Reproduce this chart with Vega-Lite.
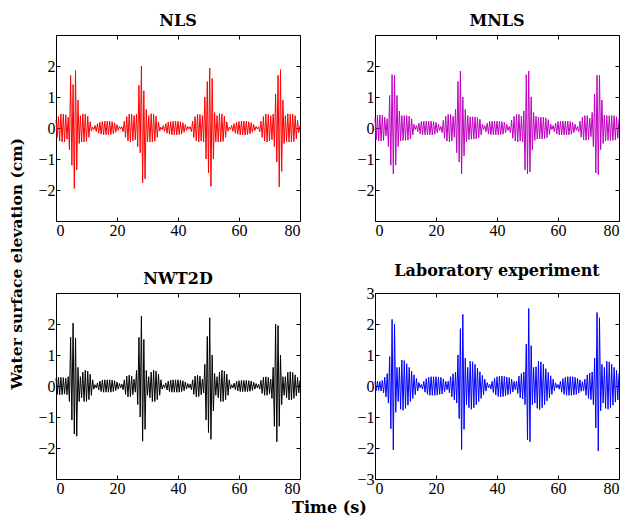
{
"$schema":"https://vega.github.io/schema/vega-lite/v6.json",
"padding":{"left":9,"top":12,"right":2,"bottom":2},
"background":"white",
"config":{"view":{"stroke":"black","strokeWidth":1},
"style":{"guide-label":{"font":"Liberation Serif","fontSize":16,"fill":"black"}},
"axis":{"grid":false,"domain":false,"labelFont":"Liberation Serif","labelFontSize":16,"labelColor":"black","tickColor":"black","tickSize":-4,"labelPadding":5,"title":null},
"title":{"font":"DejaVu Serif","fontWeight":"bold","fontSize":16,"color":"black","offset":6},
"concat":{"spacing":53}},
"data":{"values":[
{"t":0,"a":0.25,"b":0.32,"c":0.25,"d":0.15},
{"t":0.4,"a":-0.3,"b":-0.38,"c":-0.27,"d":-0.15},
{"t":0.8,"a":0.37,"b":0.41,"c":0.28,"d":0.15},
{"t":1.2,"a":-0.42,"b":-0.42,"c":-0.28,"d":-0.14},
{"t":1.6,"a":0.45,"b":0.42,"c":0.28,"d":0.15},
{"t":2.0,"a":-0.45,"b":-0.42,"c":-0.28,"d":-0.16},
{"t":2.4,"a":0.45,"b":0.41,"c":0.27,"d":0.18},
{"t":2.8,"a":-0.45,"b":-0.4,"c":-0.26,"d":-0.22},
{"t":3.2,"a":0.43,"b":0.35,"c":0.25,"d":0.28},
{"t":3.6,"a":-0.36,"b":-0.25,"c":-0.28,"d":-0.35},
{"t":4.0,"a":0.35,"b":0.3,"c":0.3,"d":0.4},
{"t":4.4,"a":-0.7,"b":-0.6,"c":-0.5,"d":-0.55},
{"t":4.8,"a":1.7,"b":1.05,"c":1.57,"d":0.95},
{"t":5.2,"a":-1.2,"b":-1.2,"c":-1.1,"d":-1.38},
{"t":5.6,"a":1.4,"b":1.72,"c":2.03,"d":2.15},
{"t":6.0,"a":-1.95,"b":-1.48,"c":-1.55,"d":-2.06},
{"t":6.4,"a":1.85,"b":1.7,"c":1.55,"d":2.0},
{"t":6.8,"a":-1.35,"b":-1.2,"c":-1.62,"d":-0.85},
{"t":7.2,"a":0.9,"b":1.05,"c":0.6,"d":0.6},
{"t":7.6,"a":-0.5,"b":-0.6,"c":-0.5,"d":-0.5},
{"t":8.0,"a":0.4,"b":0.55,"c":0.3,"d":0.6},
{"t":8.4,"a":-0.45,"b":-0.42,"c":-0.38,"d":-0.75},
{"t":8.8,"a":0.46,"b":0.4,"c":0.45,"d":0.84},
{"t":9.2,"a":-0.45,"b":-0.4,"c":-0.5,"d":-0.78},
{"t":9.6,"a":0.45,"b":0.4,"c":0.51,"d":0.82},
{"t":10.0,"a":-0.43,"b":-0.4,"c":-0.5,"d":-0.72},
{"t":10.4,"a":0.38,"b":0.4,"c":0.48,"d":0.72},
{"t":10.8,"a":-0.3,"b":-0.39,"c":-0.44,"d":-0.62},
{"t":11.2,"a":0.2,"b":0.38,"c":0.38,"d":0.6},
{"t":11.6,"a":-0.1,"b":-0.35,"c":-0.3,"d":-0.5},
{"t":12.0,"a":0.03,"b":0.3,"c":0.2,"d":0.48},
{"t":12.4,"a":-0.05,"b":-0.22,"c":-0.1,"d":-0.4},
{"t":12.8,"a":0.08,"b":0.12,"c":0.04,"d":0.36},
{"t":13.2,"a":-0.11,"b":-0.05,"c":-0.06,"d":-0.28},
{"t":13.6,"a":0.14,"b":0.08,"c":0.1,"d":0.24},
{"t":14.0,"a":-0.17,"b":-0.12,"c":-0.13,"d":-0.16},
{"t":14.4,"a":0.19,"b":0.16,"c":0.16,"d":0.11},
{"t":14.8,"a":-0.2,"b":-0.19,"c":-0.18,"d":-0.06},
{"t":15.2,"a":0.21,"b":0.21,"c":0.19,"d":0.05},
{"t":15.6,"a":-0.22,"b":-0.22,"c":-0.2,"d":-0.1},
{"t":16.0,"a":0.22,"b":0.22,"c":0.2,"d":0.15},
{"t":16.4,"a":-0.22,"b":-0.22,"c":-0.2,"d":-0.2},
{"t":16.8,"a":0.22,"b":0.22,"c":0.2,"d":0.24},
{"t":17.2,"a":-0.22,"b":-0.22,"c":-0.2,"d":-0.27},
{"t":17.6,"a":0.22,"b":0.22,"c":0.2,"d":0.28},
{"t":18.0,"a":-0.21,"b":-0.22,"c":-0.2,"d":-0.3},
{"t":18.4,"a":0.2,"b":0.22,"c":0.19,"d":0.3},
{"t":18.8,"a":-0.19,"b":-0.22,"c":-0.18,"d":-0.3},
{"t":19.2,"a":0.17,"b":0.21,"c":0.17,"d":0.3},
{"t":19.6,"a":-0.14,"b":-0.2,"c":-0.15,"d":-0.3},
{"t":20.0,"a":0.11,"b":0.18,"c":0.13,"d":0.3},
{"t":20.4,"a":-0.08,"b":-0.15,"c":-0.1,"d":-0.29},
{"t":20.8,"a":0.05,"b":0.12,"c":0.08,"d":0.28},
{"t":21.2,"a":-0.03,"b":-0.08,"c":-0.06,"d":-0.27},
{"t":21.6,"a":0.04,"b":0.05,"c":0.06,"d":0.28},
{"t":22.0,"a":-0.12,"b":-0.15,"c":-0.12,"d":-0.26},
{"t":22.4,"a":0.22,"b":0.25,"c":0.2,"d":0.23},
{"t":22.8,"a":-0.3,"b":-0.33,"c":-0.27,"d":-0.19},
{"t":23.2,"a":0.37,"b":0.38,"c":0.32,"d":0.15},
{"t":23.6,"a":-0.42,"b":-0.42,"c":-0.35,"d":-0.12},
{"t":24.0,"a":0.45,"b":0.44,"c":0.35,"d":0.15},
{"t":24.4,"a":-0.45,"b":-0.45,"c":-0.34,"d":-0.22},
{"t":24.8,"a":0.44,"b":0.44,"c":0.32,"d":0.3},
{"t":25.2,"a":-0.42,"b":-0.42,"c":-0.28,"d":-0.35},
{"t":25.6,"a":0.4,"b":0.38,"c":0.22,"d":0.4},
{"t":26.0,"a":-0.38,"b":-0.3,"c":-0.2,"d":-0.45},
{"t":26.4,"a":0.45,"b":0.6,"c":0.5,"d":0.45},
{"t":26.8,"a":-0.6,"b":-0.8,"c":-0.6,"d":-0.55},
{"t":27.2,"a":1.38,"b":1.5,"c":1.57,"d":1.0},
{"t":27.6,"a":-0.8,"b":-1.1,"c":-1.0,"d":-1.05},
{"t":28.0,"a":2.0,"b":1.84,"c":2.25,"d":1.85},
{"t":28.4,"a":-1.77,"b":-1.48,"c":-1.78,"d":-2.05},
{"t":28.8,"a":1.2,"b":1.0,"c":1.5,"d":2.31},
{"t":29.2,"a":-1.64,"b":-0.9,"c":-1.4,"d":-1.4},
{"t":29.6,"a":0.6,"b":0.6,"c":0.5,"d":0.9},
{"t":30.0,"a":-0.45,"b":-0.45,"c":-0.3,"d":-0.6},
{"t":30.4,"a":0.4,"b":0.4,"c":0.3,"d":0.6},
{"t":30.8,"a":-0.45,"b":-0.38,"c":-0.38,"d":-0.7},
{"t":31.2,"a":0.46,"b":0.36,"c":0.45,"d":0.8},
{"t":31.6,"a":-0.45,"b":-0.36,"c":-0.5,"d":-0.75},
{"t":32.0,"a":0.45,"b":0.36,"c":0.51,"d":0.78},
{"t":32.4,"a":-0.43,"b":-0.36,"c":-0.5,"d":-0.7},
{"t":32.8,"a":0.38,"b":0.36,"c":0.48,"d":0.7},
{"t":33.2,"a":-0.3,"b":-0.35,"c":-0.44,"d":-0.6},
{"t":33.6,"a":0.2,"b":0.34,"c":0.38,"d":0.58},
{"t":34.0,"a":-0.1,"b":-0.32,"c":-0.3,"d":-0.5},
{"t":34.4,"a":0.03,"b":0.28,"c":0.2,"d":0.46},
{"t":34.8,"a":-0.05,"b":-0.22,"c":-0.1,"d":-0.4},
{"t":35.2,"a":0.08,"b":0.12,"c":0.04,"d":0.34},
{"t":35.6,"a":-0.11,"b":-0.05,"c":-0.06,"d":-0.28},
{"t":36.0,"a":0.14,"b":0.08,"c":0.1,"d":0.22},
{"t":36.4,"a":-0.17,"b":-0.12,"c":-0.13,"d":-0.16},
{"t":36.8,"a":0.19,"b":0.16,"c":0.16,"d":0.11},
{"t":37.2,"a":-0.2,"b":-0.19,"c":-0.18,"d":-0.06},
{"t":37.6,"a":0.21,"b":0.21,"c":0.19,"d":0.05},
{"t":38.0,"a":-0.22,"b":-0.22,"c":-0.2,"d":-0.1},
{"t":38.4,"a":0.22,"b":0.22,"c":0.2,"d":0.15},
{"t":38.8,"a":-0.22,"b":-0.22,"c":-0.2,"d":-0.21},
{"t":39.2,"a":0.22,"b":0.22,"c":0.2,"d":0.25},
{"t":39.6,"a":-0.22,"b":-0.22,"c":-0.2,"d":-0.29},
{"t":40.0,"a":0.22,"b":0.22,"c":0.2,"d":0.3},
{"t":40.4,"a":-0.21,"b":-0.22,"c":-0.2,"d":-0.34},
{"t":40.8,"a":0.2,"b":0.22,"c":0.19,"d":0.32},
{"t":41.2,"a":-0.19,"b":-0.22,"c":-0.18,"d":-0.35},
{"t":41.6,"a":0.17,"b":0.21,"c":0.17,"d":0.32},
{"t":42.0,"a":-0.14,"b":-0.2,"c":-0.15,"d":-0.34},
{"t":42.4,"a":0.11,"b":0.18,"c":0.13,"d":0.31},
{"t":42.8,"a":-0.08,"b":-0.15,"c":-0.1,"d":-0.31},
{"t":43.2,"a":0.05,"b":0.12,"c":0.08,"d":0.29},
{"t":43.6,"a":-0.03,"b":-0.08,"c":-0.06,"d":-0.28},
{"t":44.0,"a":0.04,"b":0.05,"c":0.06,"d":0.27},
{"t":44.4,"a":-0.12,"b":-0.15,"c":-0.12,"d":-0.25},
{"t":44.8,"a":0.22,"b":0.25,"c":0.2,"d":0.22},
{"t":45.2,"a":-0.3,"b":-0.33,"c":-0.27,"d":-0.19},
{"t":45.6,"a":0.37,"b":0.38,"c":0.32,"d":0.15},
{"t":46.0,"a":-0.42,"b":-0.42,"c":-0.35,"d":-0.12},
{"t":46.4,"a":0.45,"b":0.44,"c":0.35,"d":0.16},
{"t":46.8,"a":-0.45,"b":-0.45,"c":-0.34,"d":-0.24},
{"t":47.2,"a":0.44,"b":0.44,"c":0.32,"d":0.32},
{"t":47.6,"a":-0.42,"b":-0.42,"c":-0.28,"d":-0.38},
{"t":48.0,"a":0.4,"b":0.38,"c":0.22,"d":0.4},
{"t":48.4,"a":-0.45,"b":-0.45,"c":-0.22,"d":-0.42},
{"t":48.8,"a":1.0,"b":0.55,"c":0.7,"d":0.45},
{"t":49.2,"a":-1.0,"b":-1.35,"c":-1.1,"d":-0.6},
{"t":49.6,"a":1.5,"b":1.72,"c":1.6,"d":1.35},
{"t":50.0,"a":-1.45,"b":-1.48,"c":-1.5,"d":-1.74},
{"t":50.4,"a":1.93,"b":1.84,"c":2.2,"d":2.5},
{"t":50.8,"a":-1.88,"b":-1.42,"c":-1.72,"d":-1.8},
{"t":51.2,"a":1.6,"b":1.0,"c":1.0,"d":1.3},
{"t":51.6,"a":-1.0,"b":-0.7,"c":-0.8,"d":-0.6},
{"t":52.0,"a":0.5,"b":0.5,"c":0.4,"d":0.6},
{"t":52.4,"a":-0.45,"b":-0.4,"c":-0.3,"d":-0.55},
{"t":52.8,"a":0.4,"b":0.38,"c":0.3,"d":0.62},
{"t":53.2,"a":-0.45,"b":-0.36,"c":-0.38,"d":-0.72},
{"t":53.6,"a":0.46,"b":0.35,"c":0.45,"d":0.8},
{"t":54.0,"a":-0.45,"b":-0.35,"c":-0.5,"d":-0.76},
{"t":54.4,"a":0.45,"b":0.35,"c":0.51,"d":0.78},
{"t":54.8,"a":-0.43,"b":-0.35,"c":-0.5,"d":-0.7},
{"t":55.2,"a":0.38,"b":0.35,"c":0.48,"d":0.7},
{"t":55.6,"a":-0.3,"b":-0.34,"c":-0.44,"d":-0.6},
{"t":56.0,"a":0.2,"b":0.33,"c":0.38,"d":0.56},
{"t":56.4,"a":-0.1,"b":-0.31,"c":-0.3,"d":-0.48},
{"t":56.8,"a":0.03,"b":0.27,"c":0.2,"d":0.44},
{"t":57.2,"a":-0.05,"b":-0.21,"c":-0.1,"d":-0.38},
{"t":57.6,"a":0.08,"b":0.12,"c":0.04,"d":0.33},
{"t":58.0,"a":-0.11,"b":-0.05,"c":-0.06,"d":-0.27},
{"t":58.4,"a":0.14,"b":0.08,"c":0.09,"d":0.22},
{"t":58.8,"a":-0.17,"b":-0.12,"c":-0.12,"d":-0.15},
{"t":59.2,"a":0.19,"b":0.16,"c":0.15,"d":0.1},
{"t":59.6,"a":-0.2,"b":-0.19,"c":-0.16,"d":-0.06},
{"t":60.0,"a":0.21,"b":0.21,"c":0.17,"d":0.05},
{"t":60.4,"a":-0.22,"b":-0.22,"c":-0.18,"d":-0.1},
{"t":60.8,"a":0.22,"b":0.22,"c":0.18,"d":0.15},
{"t":61.2,"a":-0.22,"b":-0.22,"c":-0.18,"d":-0.2},
{"t":61.6,"a":0.22,"b":0.22,"c":0.18,"d":0.24},
{"t":62.0,"a":-0.22,"b":-0.22,"c":-0.18,"d":-0.27},
{"t":62.4,"a":0.22,"b":0.22,"c":0.18,"d":0.28},
{"t":62.8,"a":-0.21,"b":-0.22,"c":-0.18,"d":-0.3},
{"t":63.2,"a":0.2,"b":0.22,"c":0.17,"d":0.3},
{"t":63.6,"a":-0.19,"b":-0.22,"c":-0.17,"d":-0.3},
{"t":64.0,"a":0.17,"b":0.21,"c":0.16,"d":0.3},
{"t":64.4,"a":-0.14,"b":-0.2,"c":-0.14,"d":-0.3},
{"t":64.8,"a":0.11,"b":0.18,"c":0.12,"d":0.3},
{"t":65.2,"a":-0.08,"b":-0.15,"c":-0.1,"d":-0.29},
{"t":65.6,"a":0.05,"b":0.12,"c":0.08,"d":0.28},
{"t":66.0,"a":-0.03,"b":-0.08,"c":-0.06,"d":-0.27},
{"t":66.4,"a":0.04,"b":0.05,"c":0.05,"d":0.25},
{"t":66.8,"a":-0.12,"b":-0.12,"c":-0.1,"d":-0.23},
{"t":67.2,"a":0.22,"b":0.22,"c":0.18,"d":0.2},
{"t":67.6,"a":-0.3,"b":-0.3,"c":-0.24,"d":-0.17},
{"t":68.0,"a":0.37,"b":0.35,"c":0.28,"d":0.14},
{"t":68.4,"a":-0.42,"b":-0.38,"c":-0.3,"d":-0.15},
{"t":68.8,"a":0.45,"b":0.4,"c":0.3,"d":0.22},
{"t":69.2,"a":-0.45,"b":-0.4,"c":-0.3,"d":-0.3},
{"t":69.6,"a":0.44,"b":0.4,"c":0.28,"d":0.36},
{"t":70.0,"a":-0.42,"b":-0.38,"c":-0.25,"d":-0.4},
{"t":70.4,"a":0.4,"b":0.32,"c":0.22,"d":0.42},
{"t":70.8,"a":-0.38,"b":-0.28,"c":-0.4,"d":-0.44},
{"t":71.2,"a":0.45,"b":0.5,"c":0.6,"d":0.45},
{"t":71.6,"a":-0.6,"b":-0.6,"c":-1.3,"d":-0.6},
{"t":72.0,"a":1.1,"b":1.1,"c":2.0,"d":0.9},
{"t":72.4,"a":-1.1,"b":-1.45,"c":-1.8,"d":-1.35},
{"t":72.8,"a":1.7,"b":1.7,"c":1.95,"d":2.37},
{"t":73.2,"a":-1.9,"b":-1.5,"c":-1.3,"d":-2.1},
{"t":73.6,"a":1.88,"b":1.7,"c":1.0,"d":2.2},
{"t":74.0,"a":-1.4,"b":-0.7,"c":-0.6,"d":-0.8},
{"t":74.4,"a":0.9,"b":0.9,"c":0.3,"d":0.7},
{"t":74.8,"a":-0.5,"b":-0.5,"c":-0.3,"d":-0.55},
{"t":75.2,"a":0.4,"b":0.42,"c":0.3,"d":0.6},
{"t":75.6,"a":-0.45,"b":-0.42,"c":-0.38,"d":-0.72},
{"t":76.0,"a":0.46,"b":0.4,"c":0.44,"d":0.8},
{"t":76.4,"a":-0.45,"b":-0.4,"c":-0.45,"d":-0.75},
{"t":76.8,"a":0.45,"b":0.4,"c":0.46,"d":0.78},
{"t":77.2,"a":-0.45,"b":-0.4,"c":-0.45,"d":-0.7},
{"t":77.6,"a":0.45,"b":0.4,"c":0.44,"d":0.7},
{"t":78.0,"a":-0.44,"b":-0.4,"c":-0.4,"d":-0.62},
{"t":78.4,"a":0.4,"b":0.4,"c":0.36,"d":0.6},
{"t":78.8,"a":-0.35,"b":-0.38,"c":-0.32,"d":-0.52},
{"t":79.2,"a":0.25,"b":0.36,"c":0.28,"d":0.5},
{"t":79.6,"a":-0.15,"b":-0.33,"c":-0.22,"d":-0.45},
{"t":80.0,"a":0.08,"b":0.3,"c":0.18,"d":0.42}
]},
"title":{"text":"Water surface elevation (cm)","orient":"left","anchor":"middle","offset":12,"fontSize":15.5},
"hconcat":[{
"title":{"text":"Time (s)","orient":"bottom","anchor":"middle","offset":3},
"spacing":23,
"vconcat":[
{"spacing":53,"hconcat":[
{"title":"NLS","width":244,"height":186,"layer":[
{"mark":{"type":"line","color":"#ff0000","strokeWidth":1},"encoding":{"x":{"field":"t","type":"quantitative","scale":{"domain":[0,80]},"axis":{"values":[0,20,40,60,80],"orient":"bottom","title":null}},"y":{"field":"a","type":"quantitative","scale":{"domain":[-2.7,2.7]},"axis":{"values":[-2,-1,0,1,2],"orient":"left","title":null}}}},
{"data":{"values":[]},"mark":"point","encoding":{"x":{"field":"t","type":"quantitative","axis":{"values":[0,20,40,60,80],"orient":"top","labels":false,"title":null}},"y":{"field":"a","type":"quantitative","axis":{"values":[-2,-1,0,1,2],"orient":"right","labels":false,"title":null}}}}
],"resolve":{"axis":{"x":"independent","y":"independent"}}},
{"title":"MNLS","width":244,"height":186,"layer":[
{"mark":{"type":"line","color":"#c000c0","strokeWidth":1},"encoding":{"x":{"field":"t","type":"quantitative","scale":{"domain":[0,80]},"axis":{"values":[0,20,40,60,80],"orient":"bottom","title":null}},"y":{"field":"b","type":"quantitative","scale":{"domain":[-2.7,2.7]},"axis":{"values":[-2,-1,0,1,2],"orient":"left","title":null}}}},
{"data":{"values":[]},"mark":"point","encoding":{"x":{"field":"t","type":"quantitative","axis":{"values":[0,20,40,60,80],"orient":"top","labels":false,"title":null}},"y":{"field":"b","type":"quantitative","axis":{"values":[-2,-1,0,1,2],"orient":"right","labels":false,"title":null}}}}
],"resolve":{"axis":{"x":"independent","y":"independent"}}}
]},
{"spacing":53,"hconcat":[
{"title":"NWT2D","width":244,"height":186,"layer":[
{"mark":{"type":"line","color":"#000000","strokeWidth":1},"encoding":{"x":{"field":"t","type":"quantitative","scale":{"domain":[0,80]},"axis":{"values":[0,20,40,60,80],"orient":"bottom","title":null}},"y":{"field":"c","type":"quantitative","scale":{"domain":[-2.7,2.7]},"axis":{"values":[-2,-1,0,1,2],"orient":"left","title":null}}}},
{"data":{"values":[]},"mark":"point","encoding":{"x":{"field":"t","type":"quantitative","axis":{"values":[0,20,40,60,80],"orient":"top","labels":false,"title":null}},"y":{"field":"c","type":"quantitative","axis":{"values":[-2,-1,0,1,2],"orient":"right","labels":false,"title":null}}}}
],"resolve":{"axis":{"x":"independent","y":"independent"}}},
{"title":"Laboratory experiment","width":244,"height":186,"layer":[
{"mark":{"type":"line","color":"#0000ff","strokeWidth":1},"encoding":{"x":{"field":"t","type":"quantitative","scale":{"domain":[0,80]},"axis":{"values":[0,20,40,60,80],"orient":"bottom","title":null}},"y":{"field":"d","type":"quantitative","scale":{"domain":[-3,3]},"axis":{"values":[-3,-2,-1,0,1,2,3],"orient":"left","title":null}}}},
{"data":{"values":[]},"mark":"point","encoding":{"x":{"field":"t","type":"quantitative","axis":{"values":[0,20,40,60,80],"orient":"top","labels":false,"title":null}},"y":{"field":"d","type":"quantitative","axis":{"values":[-3,-2,-1,0,1,2,3],"orient":"right","labels":false,"title":null}}}}
],"resolve":{"axis":{"x":"independent","y":"independent"}}}
]}
]}]
}
